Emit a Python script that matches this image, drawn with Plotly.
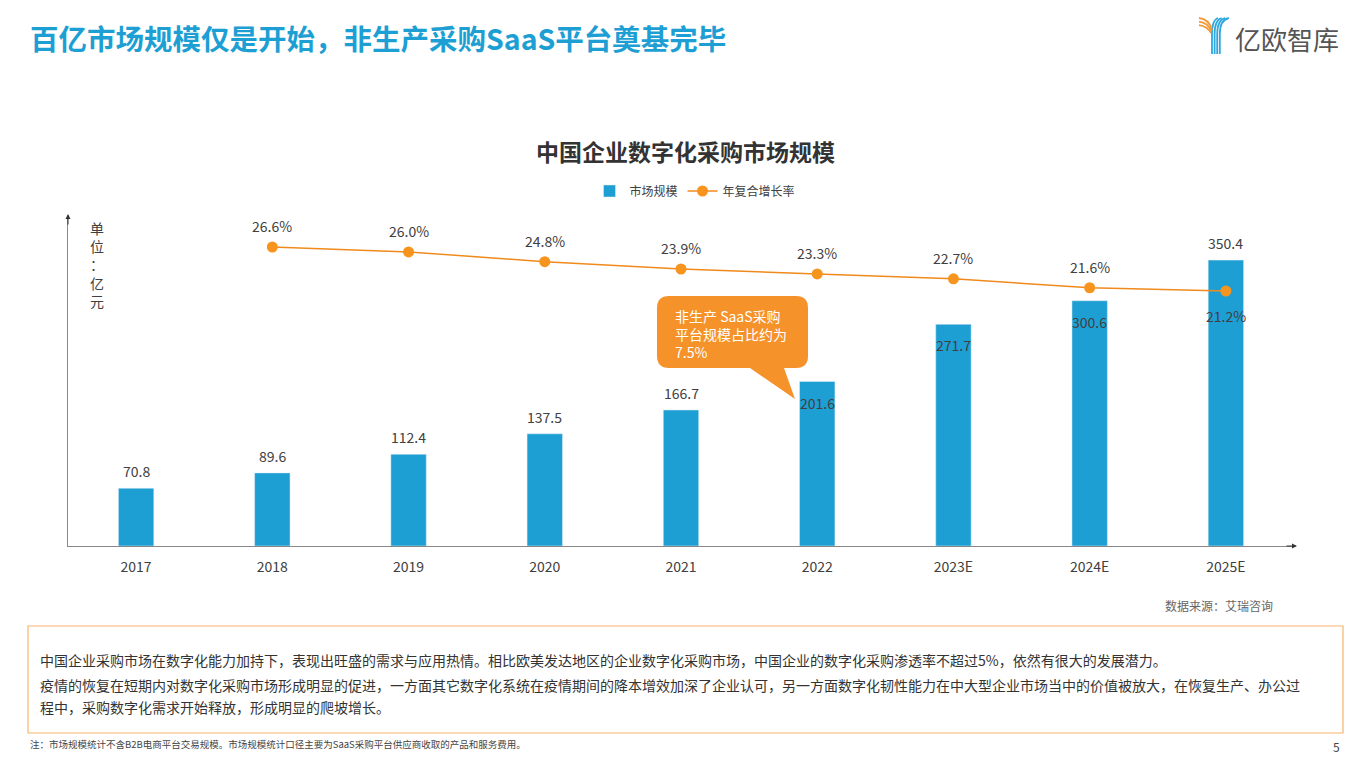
import plotly.graph_objects as go

# data
years = ["2017", "2018", "2019", "2020", "2021", "2022", "2023E", "2024E", "2025E"]
market_size = [70.8, 89.6, 112.4, 137.5, 166.7, 201.6, 271.7, 300.6, 350.4]
cagr_years = ["2018", "2019", "2020", "2021", "2022", "2023E", "2024E", "2025E"]
cagr = [26.6, 26.0, 24.8, 23.9, 23.3, 22.7, 21.6, 21.2]

W, H = 1368, 765
FONT = "Noto Sans CJK SC, Open Sans, sans-serif"
BLUE = "#1E9FD4"
ORANGE = "#F7941D"
TXT = "#404040"


def px(x):
    return x / W


def py(y):
    return 1 - y / H


fig = go.Figure()
fig.add_trace(go.Bar(x=years, y=market_size, name="市场规模", marker_color=BLUE,
                     width=0.26, hoverinfo="x+y"))
fig.add_trace(go.Scatter(x=cagr_years, y=cagr, name="年复合增长率", yaxis="y2",
                         mode="lines+markers", line=dict(color="#F08A1C", width=1.5),
                         marker=dict(color=ORANGE, size=11)))

ann = []
# bar value labels (x as category index so "2017" is not read as a number)
inside = {"2022", "2023E", "2024E"}
for i, (yr, v) in enumerate(zip(years, market_size)):
    ann.append(dict(x=i, y=v, xref="x", yref="y", text=f"{v:.1f}", showarrow=False,
                    yshift=-21 if yr in inside else 17,
                    font=dict(size=14, color=TXT, family=FONT)))
# growth-rate labels
for yr, v in zip(cagr_years, cagr):
    i = years.index(yr)
    ann.append(dict(x=i, y=v, xref="x", yref="y2", text=f"{v:.1f}%", showarrow=False,
                    yshift=-25 if yr == "2025E" else 21,
                    font=dict(size=14, color=TXT, family=FONT)))

# axis arrows
ann.append(dict(x=px(68), y=py(214), xref="paper", yref="paper", ax=0, ay=12, text="",
                showarrow=True, arrowhead=2, arrowsize=1, arrowwidth=1, arrowcolor="#333"))
ann.append(dict(x=px(1297), y=py(546), xref="paper", yref="paper", ax=-12, ay=0, text="",
                showarrow=True, arrowhead=2, arrowsize=1, arrowwidth=1, arrowcolor="#333"))

texts = [
    (28, 37, "<b>百亿市场规模仅是开始，非生产采购SaaS平台奠基完毕</b>", 28.5, "#1E9FD4", "left"),
    (1233, 38, "亿欧智库", 26, "#555555", "left"),
    (685, 151, "<b>中国企业数字化采购市场规模</b>", 23, "#333333", "center"),
    (1275, 605, "数据来源：艾瑞咨询", 12, "#666666", "right"),
    (38, 660, "中国企业采购市场在数字化能力加持下，表现出旺盛的需求与应用热情。相比欧美发达地区的企业数字化采购市场，中国企业的数字化采购渗透率不超过5%，依然有很大的发展潜力。", 14, "#333333", "left"),
    (38, 685, "疫情的恢复在短期内对数字化采购市场形成明显的促进，一方面其它数字化系统在疫情期间的降本增效加深了企业认可，另一方面数字化韧性能力在中大型企业市场当中的价值被放大，在恢复生产、办公过", 14, "#333333", "left"),
    (38, 707, "程中，采购数字化需求开始释放，形成明显的爬坡增长。", 14, "#333333", "left"),
    (28, 744, "注：市场规模统计不含B2B电商平台交易规模。市场规模统计口径主要为SaaS采购平台供应商收取的产品和服务费用。", 9.5, "#444444", "left"),
    (1342, 746, "5", 12, "#444444", "right"),
]
for x, y, t, s, c, anc in texts:
    ann.append(dict(x=px(x), y=py(y), xref="paper", yref="paper", text=t, showarrow=False,
                    xanchor=anc, yanchor="middle", font=dict(size=s, color=c, family=FONT)))

# unit label
ann.append(dict(x=px(88), y=py(264), xref="paper", yref="paper", showarrow=False,
                text="单<br>位<br>：<br>亿<br>元", align="center",
                font=dict(size=14, color=TXT, family=FONT)))

# callout text
ann.append(dict(x=px(673), y=py(334), xref="paper", yref="paper", showarrow=False,
                xanchor="left", align="left",
                text="非生产 SaaS采购<br>平台规模占比约为<br>7.5%",
                font=dict(size=14, color="white", family=FONT)))

shapes = []
# callout bubble
x0, x1, y0, y1, r = 657, 808, 296, 368, 12
bubble = (f"M {px(x0 + r):.5f},{py(y0):.5f} L {px(x1 - r):.5f},{py(y0):.5f} "
          f"Q {px(x1):.5f},{py(y0):.5f} {px(x1):.5f},{py(y0 + r):.5f} "
          f"L {px(x1):.5f},{py(y1 - r):.5f} Q {px(x1):.5f},{py(y1):.5f} {px(x1 - r):.5f},{py(y1):.5f} "
          f"L {px(784):.5f},{py(y1):.5f} L {px(795):.5f},{py(399):.5f} L {px(750):.5f},{py(y1):.5f} "
          f"L {px(x0 + r):.5f},{py(y1):.5f} Q {px(x0):.5f},{py(y1):.5f} {px(x0):.5f},{py(y1 - r):.5f} "
          f"L {px(x0):.5f},{py(y0 + r):.5f} Q {px(x0):.5f},{py(y0):.5f} {px(x0 + r):.5f},{py(y0):.5f} Z")
shapes.append(dict(type="path", path=bubble, xref="paper", yref="paper",
                   fillcolor="#F5922A", line=dict(width=0), layer="above"))

# text box border
shapes.append(dict(type="rect", xref="paper", yref="paper", x0=px(28), x1=px(1343),
                   y0=py(733), y1=py(626), line=dict(color="#F9B46E", width=1.2)))

# logo icon
for i in range(4):
    xt, xs = 1218 + i * 3.6, 1212 + i * 2.6
    d = (f"M {px(xt):.5f},{py(18):.5f} Q {px(xs):.5f},{py(20):.5f} {px(xs):.5f},{py(34):.5f} "
         f"L {px(xs):.5f},{py(54):.5f}")
    shapes.append(dict(type="path", path=d, xref="paper", yref="paper",
                       line=dict(color="#2FA7DF", width=1.8)))
for j in range(3):
    ys = 18 + j * 3.6
    d = (f"M {px(1199):.5f},{py(ys):.5f} Q {px(1209 - j):.5f},{py(ys + 1):.5f} "
         f"{px(1212 - j * 0.5):.5f},{py(30 + j * 1.5):.5f}")
    shapes.append(dict(type="path", path=d, xref="paper", yref="paper",
                       line=dict(color="#F29A3A", width=1.8)))

fig.update_layout(
    width=W, height=H, margin=dict(l=0, r=0, t=0, b=0),
    paper_bgcolor="white", plot_bgcolor="white",
    font=dict(family=FONT, color=TXT),
    showlegend=True,
    legend=dict(orientation="h", x=px(695), xanchor="center", y=py(191), yanchor="middle",
                font=dict(size=12, color=TXT), itemwidth=30, bgcolor="rgba(0,0,0,0)"),
    xaxis=dict(domain=[px(68), px(1294)], range=[-0.5, 8.5], type="category", showline=True,
               linecolor="#888", linewidth=1.2, ticks="", showgrid=False,
               tickfont=dict(size=14, color=TXT), ticklabelstandoff=8),
    yaxis=dict(domain=[py(546), py(218)], range=[0, 402], showline=True, linecolor="#888",
               linewidth=1.2, showgrid=False, zeroline=False, showticklabels=False, ticks=""),
    yaxis2=dict(overlaying="y", range=[-10.1, 30.16], visible=False),
    annotations=ann,
    shapes=shapes,
    bargap=0.7,
)

# drop the browser's default body margin so the figure sits at the page origin
fig.write_html("out.html", config={"displayModeBar": False},
               post_script="document.body.style.margin='0';")
